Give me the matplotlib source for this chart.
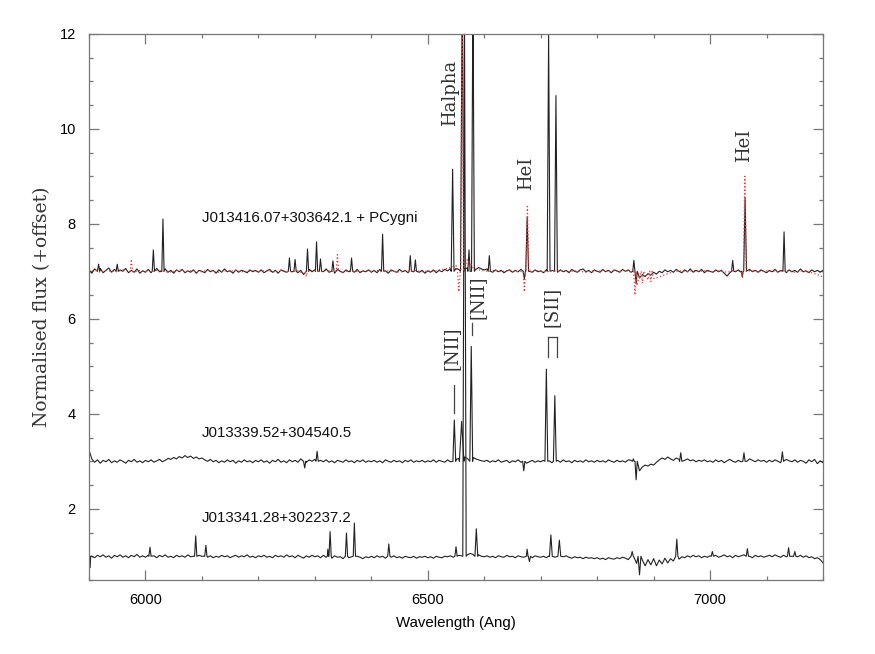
import numpy as np
import matplotlib
matplotlib.use("Agg")
import matplotlib.pyplot as plt
from matplotlib.ticker import MultipleLocator

# ---------------- data ----------------
WAVE_START, WAVE_STOP = 5900, 7200      # Angstrom
SPEC_STEP = 5                            # sampling of the observed spectra
MODEL_STEP = 10                          # sampling of the P Cygni model

# Top object: J013416.07+303642.1 (offset 7), continuum samples every 5 A
TOP_FLUX = [
    7.03, 6.96, 7.05, 6.99, 7.06, 6.97, 7.02, 7.07, 6.98, 7.04, 6.95, 7.03, 7.00, 7.06, 6.97, 7.02, 6.98, 7.05, 6.96, 7.01,
    6.98, 7.04, 6.97, 7.02, 7.06, 6.99, 7.03, 7.05, 6.98, 7.02, 6.96, 7.03, 6.99, 7.04, 6.97, 7.01, 6.98, 7.03, 6.96, 7.02,
    7.00, 6.97, 7.04, 6.99, 7.02, 6.96, 7.03, 6.98, 7.05, 6.99, 7.01, 6.96, 7.03, 6.98, 7.02, 7.00, 6.97, 7.03, 6.99, 7.02,
    6.98, 7.03, 6.97, 7.01, 7.04, 6.98, 7.02, 6.96, 7.03, 7.00, 6.98, 7.04, 6.99, 7.05, 6.97, 7.02, 6.93, 6.98, 7.04, 6.99,
    7.03, 6.97, 7.02, 6.99, 7.05, 6.98, 7.02, 6.96, 7.04, 7.00, 6.97, 7.03, 6.99, 7.02, 6.98, 7.04, 6.97, 7.01, 6.99, 7.03,
    6.98, 7.02, 6.97, 7.04, 6.99, 7.01, 6.96, 7.03, 7.00, 6.98, 7.04, 6.99, 7.02, 6.97, 7.03, 6.99, 7.05, 6.98, 7.02, 6.96,
    7.01, 6.98, 7.03, 6.97, 7.02, 6.99, 7.04, 7.01, 7.05, 7.03, 7.06, 7.04, 7.08, 7.05, 7.07, 7.10, 7.06, 7.04, 7.08, 7.05,
    7.03, 7.05, 7.01, 6.98, 7.03, 6.99, 7.02, 6.97, 7.01, 7.03, 6.98, 7.02, 6.99, 7.04, 6.97, 7.02, 7.00, 6.98, 7.03, 6.99,
    7.01, 6.97, 7.03, 6.99, 7.02, 7.00, 6.98, 7.03, 6.99, 7.02, 6.97, 7.04, 7.00, 6.98, 7.03, 7.05, 6.99, 7.02, 6.97, 7.03,
    7.00, 6.98, 7.04, 6.99, 7.02, 6.97, 7.03, 7.01, 6.98, 7.04, 7.00, 7.03, 6.98, 7.05, 6.80, 6.86, 6.93, 6.89, 6.95, 6.92,
    6.98, 6.94, 7.00, 6.97, 7.03, 6.99, 7.02, 6.98, 7.04, 7.00, 6.97, 7.03, 6.99, 7.05, 6.98, 7.02, 6.99, 7.04, 6.97, 7.02,
    7.00, 6.98, 7.03, 6.99, 7.02, 6.96, 6.90, 6.97, 7.02, 6.99, 7.03, 6.98, 6.96, 7.01, 7.04, 6.99, 7.02, 6.98, 7.03, 7.00,
    6.97, 7.02, 6.99, 7.04, 6.98, 7.02, 7.00, 6.97, 7.03, 6.99, 7.02, 6.98, 7.05, 6.99, 7.01, 6.97, 7.03, 6.99, 7.02, 6.98,
    7.02,
]
TOP_LINE_WAVE = [5917, 5950, 6014, 6031, 6255, 6265, 6287, 6303, 6310, 6332, 6365,
                 6420, 6469, 6478, 6544, 6561, 6573, 6580, 6609, 6671, 6676, 6714,
                 6727, 6865, 6869, 7040, 7057, 7062, 7131]
TOP_LINE_PEAK = [7.15, 7.15, 7.45, 8.10, 7.28, 7.25, 7.47, 7.62, 7.26, 7.22, 7.28,
                 7.78, 7.33, 7.24, 9.15, 13.0, 7.45, 13.0, 7.33, 6.84, 8.14, 11.98,
                 10.70, 7.23, 6.75, 7.23, 6.89, 8.54, 7.83]
TOP_LINE_HW = [2, 2, 2, 2, 2, 2, 2, 2, 2, 2, 2,
               2, 2, 2, 2.5, 3, 2, 2.5, 2, 2, 2.5, 2.5,
               2.5, 2, 2, 2, 1.5, 2.5, 2]

# P Cygni model (red dotted), offset 7, samples every 10 A
MODEL_FLUX = [
    7.00, 7.03, 6.98, 7.02, 7.00, 6.99, 7.03, 7.01, 6.98, 7.02,
    7.00, 6.99, 7.02, 7.01, 6.98, 7.00, 7.03, 6.99, 7.01, 7.00,
    6.99, 7.02, 7.00, 6.98, 7.01, 7.00, 7.02, 6.99, 7.00, 7.01,
    6.99, 7.01, 7.00, 6.98, 7.02, 7.00, 6.99, 7.01, 6.95, 7.02,
    7.01, 6.99, 7.02, 7.00, 7.01, 6.98, 7.02, 7.00, 6.99, 7.01,
    7.00, 7.02, 6.99, 7.01, 7.00, 6.98, 7.01, 7.00, 7.02, 6.99,
    7.01, 7.00, 7.03, 7.05, 7.08, 7.12, 7.00, 7.25, 7.08, 7.03,
    7.01, 7.00, 7.02, 6.99, 7.01, 7.00, 6.99, 7.01, 7.00, 7.02,
    7.00, 6.99, 7.01, 7.00, 7.02, 6.99, 7.01, 7.00, 6.98, 7.01,
    7.00, 7.02, 6.99, 7.01, 7.00, 7.02, 6.99, 6.70, 6.80, 6.82,
    6.85, 6.88, 6.93, 6.97, 7.00, 7.01, 6.99, 7.02, 7.00, 7.01,
    6.99, 7.01, 7.00, 6.98, 7.01, 7.00, 6.97, 7.01, 7.00, 6.99,
    7.01, 7.00, 6.99, 7.02, 7.00, 6.98, 7.01, 6.99, 6.97, 6.93,
    6.88,
]
MODEL_LINE_WAVE = [5975, 6285, 6340, 6555, 6561, 6671, 6676.5, 6867, 6880, 6895, 7057, 7061.5]
MODEL_LINE_PEAK = [7.25, 6.89, 7.35, 6.57, 13.0, 6.57, 8.40, 6.50, 6.75, 6.78, 6.85, 9.00]
MODEL_LINE_HW = [2, 2, 2, 2.5, 2.5, 2, 2.5, 2.5, 2, 2, 1.5, 2.5]

# Middle object: J013339.52+304540.5 (offset 3), samples every 5 A
MID_FLUX = [
    3.24, 3.05, 2.98, 3.03, 2.96, 3.02, 2.99, 3.04, 2.97, 3.01, 2.98, 3.03, 3.00, 2.96, 3.02, 2.99, 3.04, 2.98, 3.01, 2.97,
    3.02, 2.99, 3.03, 2.98, 3.01, 3.04, 2.99, 3.02, 3.06, 3.04, 3.08, 3.05, 3.10, 3.07, 3.12, 3.08, 3.11, 3.06, 3.09, 3.05,
    3.07, 3.03, 3.00, 3.04, 2.99, 3.02, 2.97, 3.01, 2.98, 3.03, 2.99, 3.02, 2.96, 3.01, 2.98, 3.03, 2.99, 3.01, 2.97, 3.02,
    2.99, 3.03, 2.98, 3.01, 2.96, 3.02, 2.99, 3.04, 2.98, 3.01, 2.97, 3.03, 2.99, 3.02, 2.98, 3.05, 2.94, 2.98, 3.03, 3.00,
    3.04, 3.06, 3.02, 2.99, 3.03, 2.98, 3.01, 2.97, 3.02, 3.00, 2.98, 3.03, 2.99, 3.01, 2.97, 3.02, 2.99, 3.03, 2.98, 3.01,
    2.99, 3.02, 2.98, 3.01, 2.97, 3.03, 3.00, 2.98, 3.02, 2.99, 3.01, 2.97, 3.02, 2.99, 3.03, 2.98, 3.01, 2.99, 3.02, 2.98,
    3.01, 2.99, 3.03, 2.98, 3.02, 3.00, 2.98, 3.03, 2.99, 3.02, 3.04, 3.06, 3.05, 3.09, 3.06, 3.04, 3.08, 3.05, 3.03, 3.01,
    3.00, 3.02, 2.98, 3.01, 2.99, 3.03, 2.98, 3.00, 3.02, 2.97, 3.01, 2.99, 3.03, 2.98, 3.01, 2.96, 2.99, 3.02, 2.98, 3.01,
    2.99, 3.02, 2.98, 3.01, 2.97, 3.00, 3.02, 2.98, 3.03, 2.99, 3.01, 2.97, 3.02, 2.99, 3.01, 2.98, 3.03, 2.99, 3.01, 2.98,
    3.02, 2.99, 3.01, 2.98, 3.03, 3.00, 2.98, 3.02, 2.99, 3.01, 2.98, 3.03, 3.02, 3.01, 2.70, 2.80, 2.88, 2.92, 2.90, 2.94,
    2.92, 2.98, 3.03, 3.07, 3.04, 3.09, 3.05, 3.02, 3.07, 3.04, 3.06, 3.02, 3.05, 3.01, 3.03, 2.99, 3.02, 3.00, 3.03, 2.99,
    3.01, 2.98, 3.03, 2.99, 3.02, 2.97, 3.01, 3.04, 3.00, 2.98, 3.02, 2.99, 3.03, 3.00, 3.05, 3.02, 2.99, 3.03, 3.00, 3.02,
    2.98, 3.02, 2.99, 3.03, 3.00, 2.97, 3.02, 3.04, 3.01, 2.99, 3.03, 2.98, 3.02, 3.00, 2.96, 3.03, 2.99, 3.04, 2.95, 3.01,
    2.97,
]
MID_LINE_WAVE = [6282, 6304, 6547, 6560, 6577, 6670, 6710, 6725, 6864, 6869, 6948, 7060, 7128]
MID_LINE_PEAK = [2.86, 3.21, 3.87, 3.84, 5.42, 2.80, 4.94, 4.38, 3.05, 2.61, 3.18, 3.18, 3.20]
MID_LINE_HW = [2, 2, 2.5, 4, 2.5, 2, 2.5, 2.5, 1.5, 2, 2, 2, 2]

# Bottom object: J013341.28+302237.2 (offset 1), samples every 5 A
BOT_FLUX = [
    1.18, 1.00, 0.97, 1.02, 0.99, 1.03, 0.98, 1.01, 0.96, 1.02, 0.99, 1.03, 0.98, 1.01, 0.97, 1.02, 0.99, 1.04, 0.98, 1.01,
    0.98, 1.02, 0.99, 1.01, 0.97, 1.02, 0.99, 1.03, 0.98, 1.00, 0.97, 1.02, 0.99, 1.01, 0.98, 1.03, 0.99, 1.00, 0.97, 1.02,
    1.00, 1.03, 0.98, 1.01, 0.97, 1.00, 0.98, 1.02, 0.99, 1.01, 0.97, 1.00, 1.02, 0.98, 1.01, 0.99, 1.03, 0.98, 1.00, 0.97,
    1.01, 0.99, 1.02, 0.98, 1.00, 0.97, 1.02, 0.99, 1.01, 0.98, 1.03, 0.99, 1.01, 0.97, 1.02, 0.99, 0.96, 1.01, 0.98, 1.02,
    0.99, 1.01, 0.97, 1.02, 0.98, 1.00, 0.96, 1.01, 0.98, 0.99, 0.95, 1.00, 0.97, 0.99, 0.96, 1.00, 0.98, 0.95, 0.99, 0.97,
    1.00, 0.97, 1.01, 0.98, 1.00, 0.96, 0.99, 0.98, 1.01, 0.97, 0.99, 0.96, 1.00, 0.98, 0.97, 1.00, 0.96, 0.99, 0.98, 1.00,
    0.97, 0.99, 0.96, 1.00, 0.98, 0.97, 1.00, 0.99, 1.01, 0.98, 1.00, 1.02, 1.01, 1.04, 1.03, 1.06, 1.04, 1.02, 1.03, 1.00,
    0.99, 1.01, 0.98, 1.00, 0.97, 1.01, 0.99, 0.98, 1.02, 0.99, 1.00, 0.97, 1.01, 0.99, 0.98, 1.00, 0.99, 0.97, 1.01, 0.99,
    0.98, 1.00, 0.97, 1.01, 0.99, 0.98, 1.00, 0.97, 0.99, 1.01, 0.98, 0.96, 0.99, 0.97, 0.98, 0.95, 0.98, 0.96, 0.97, 0.95,
    0.97, 0.94, 0.96, 0.93, 0.97, 0.95, 0.94, 0.97, 0.95, 0.98, 0.96, 0.93, 1.05, 0.98, 0.85, 0.75, 0.92, 0.80, 0.93, 0.82,
    0.95, 0.80, 0.92, 0.84, 0.96, 0.86, 0.95, 0.90, 0.98, 0.94, 0.99, 0.97, 1.01, 0.98, 1.02, 0.99, 1.01, 0.97, 1.00, 0.98,
    1.01, 0.99, 1.02, 0.98, 1.00, 1.03, 0.99, 1.01, 0.97, 1.02, 0.99, 1.01, 1.03, 0.98, 1.00, 0.97, 1.02, 0.99, 1.01, 0.98,
    1.00, 1.02, 0.99, 1.03, 1.00, 0.98, 1.02, 0.99, 1.04, 1.00, 1.03, 0.99, 1.02, 0.98, 1.01, 0.97, 0.99, 0.95, 0.97, 0.93,
    0.86,
]
BOT_LINE_WAVE = [5902, 6008, 6089, 6107, 6323, 6327, 6356, 6370, 6431, 6550, 6565, 6586,
                 6676, 6680, 6718, 6733, 6862, 6875, 6941, 7004, 7066, 7139, 7150]
BOT_LINE_PEAK = [0.76, 1.19, 1.43, 1.23, 1.15, 1.52, 1.49, 1.70, 1.26, 1.20, 12.5, 1.58,
                 1.15, 0.89, 1.45, 1.34, 1.10, 0.61, 1.36, 1.10, 1.16, 1.18, 1.10]
BOT_LINE_HW = [1, 2, 2, 2, 1, 2, 2, 2, 2, 2, 3, 2.5,
               1.5, 2, 2.5, 2.5, 2, 2.5, 2, 2, 2, 2, 2]

OFFSETS = {"top": 7.0, "mid": 3.0, "bot": 1.0}

NAMES = ["J013416.07+303642.1 + PCygni", "J013339.52+304540.5", "J013341.28+302237.2"]
NAME_POS = [(6100, 8.13), (6100, 3.60), (6100, 1.81)]

LINE_LABELS = ["Halpha", "HeI", "HeI", "[NII]", "[NII]", "[SII]"]
LINE_LABEL_POS = [(6540.3, 10.76), (6674.7, 9.07), (7061.0, 9.66),
                  (6588.0, 6.46), (6542.0, 5.37), (6719.8, 6.24)]

# identification marks (wavelength, y-bottom, y-top)
MARK_WAVE = [6578.6, 6545.6, 6712.7, 6728.6]
MARK_Y0 = [5.66, 4.02, 5.20, 5.20]
MARK_Y1 = [5.92, 4.61, 5.62, 5.62]


def build(cont, step, lw, lp, lh, base):
    w = np.arange(WAVE_START, WAVE_STOP + 1, step).astype(float)
    f = np.asarray(cont, float)
    keep = np.ones(len(w), bool)
    xs, ys = [], []
    for c, p, h in zip(lw, lp, lh):
        keep &= ~((w >= c - h) & (w <= c + h))
        xs += [c - h, c, c + h]
        ys += [base, p, base]
    X = np.concatenate([w[keep], xs])
    Y = np.concatenate([f[keep], ys])
    o = np.argsort(X, kind="stable")
    return X[o], Y[o]


# ---------------- plot ----------------
fig = plt.figure(figsize=(8.75, 6.54), dpi=100)
ax = fig.add_axes([0.1017, 0.1131, 0.8389, 0.8352])

SPEC_COLOR = "#222222"
x, y = build(BOT_FLUX, SPEC_STEP, BOT_LINE_WAVE, BOT_LINE_PEAK, BOT_LINE_HW, OFFSETS["bot"])
ax.plot(x, y, color=SPEC_COLOR, lw=0.8)
x, y = build(MID_FLUX, SPEC_STEP, MID_LINE_WAVE, MID_LINE_PEAK, MID_LINE_HW, OFFSETS["mid"])
ax.plot(x, y, color=SPEC_COLOR, lw=0.8)
x, y = build(TOP_FLUX, SPEC_STEP, TOP_LINE_WAVE, TOP_LINE_PEAK, TOP_LINE_HW, OFFSETS["top"])
ax.plot(x, y, color=SPEC_COLOR, lw=0.8)
x, y = build(MODEL_FLUX, MODEL_STEP, MODEL_LINE_WAVE, MODEL_LINE_PEAK, MODEL_LINE_HW, OFFSETS["top"])
ax.plot(x, y, color="#ff3030", lw=0.9, ls=(0, (1, 1.8)))

ax.set_xlim(WAVE_START, WAVE_STOP)
ax.set_ylim(0.5, 12)

sans = "Liberation Sans"
serif = "DejaVu Serif"
for name, (xp, yp) in zip(NAMES, NAME_POS):
    ax.text(xp, yp, name, fontsize=10.8, family=sans, ha="left", va="center", color="#111111")

for lab, (xp, yp) in zip(LINE_LABELS, LINE_LABEL_POS):
    ax.text(xp, yp, lab, fontsize=13, family=serif, rotation=90,
            ha="center", va="center", color="#333333")

for mw, y0, y1 in zip(MARK_WAVE, MARK_Y0, MARK_Y1):
    ax.plot([mw, mw], [y0, y1], color="#444444", lw=0.9)
# bracket top for the [SII] doublet
ax.plot([MARK_WAVE[2], MARK_WAVE[3]], [MARK_Y1[2], MARK_Y1[3]], color="#444444", lw=0.9)

ax.xaxis.set_major_locator(MultipleLocator(500))
ax.xaxis.set_minor_locator(MultipleLocator(100))
ax.yaxis.set_major_locator(MultipleLocator(2))
ax.yaxis.set_minor_locator(MultipleLocator(0.5))
ax.tick_params(which="both", direction="in", top=True, right=True, color="#777777", width=0.9)
ax.tick_params(which="major", length=7, pad=9.5, labelsize=10.5)
ax.tick_params(which="minor", length=3.2)
for lab in ax.get_xticklabels() + ax.get_yticklabels():
    lab.set_family(sans)
for s in ax.spines.values():
    s.set_color("#777777")
    s.set_linewidth(0.9)

ax.set_xlabel("Wavelength (Ang)", fontsize=10.8, family=sans, labelpad=6)
ax.set_ylabel("Normalised flux (+offset)", fontsize=13.5, family=serif, color="#333333", labelpad=6)

fig.savefig("out.png", dpi=100)
